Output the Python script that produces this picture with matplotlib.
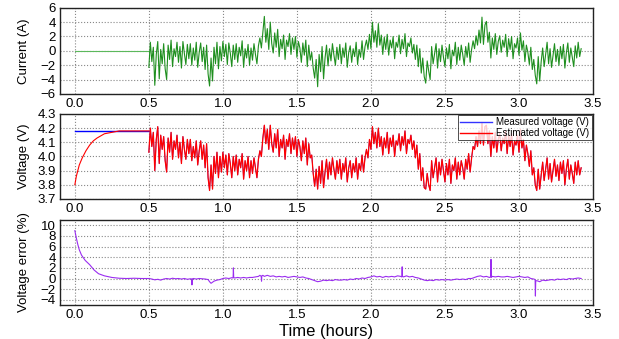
import numpy as np
import matplotlib
matplotlib.use('Agg')
import matplotlib.pyplot as plt

plt.rcParams['font.family'] = ['Liberation Sans', 'DejaVu Sans']

# Battery drive-cycle test: current, voltage (measured vs estimated) and the estimation error.
# Rest period (no load) from 0 to 0.5 h, then the dynamic profile sampled every 0.01 h.
idle_t = [0.0, 0.5]
idle_current = [0.0, 0.0]
idle_voltage = [4.18, 4.18]

# estimator start-up from a wrong initial guess
est_start_t = [0.0, 0.005, 0.01, 0.02, 0.03, 0.05, 0.075, 0.1, 0.125, 0.15, 0.2, 0.25, 0.3, 0.4, 0.5]
est_start_v = [3.80, 3.83, 3.86, 3.90, 3.94, 3.99, 4.04, 4.08, 4.11, 4.13, 4.16, 4.17, 4.18, 4.18, 4.18]

run_start = 0.5
run_end = 3.42

current = [
    -2.3, 1.2, -1.5, 0.5, -4.8, -0.5, 1.3, -3.9, 0.2, -1.8,
    1.0, -2.5, -4.0, 0.8, -1.2, 1.5, -2.2, 0.3, -0.8, 1.2,
    -1.6, 0.6, -2.4, 1.3, -0.4, -1.9, 0.9, -1.1, 1.0, -2.0,
    0.4, -1.3, 1.2, -2.3, -0.2, 1.1, -1.5, 0.5, -2.6, 0.8,
    -3.2, -4.9, -1.0, -4.2, 0.5, -1.8, 1.2, -2.5, 0.6, -1.4,
    1.3, -0.8, 0.9, -1.9, 1.1, -0.3, -2.2, 0.8, -1.2, 1.0,
    -1.6, 0.5, -0.7, 1.4, -2.3, 0.3, -1.0, 0.9, -2.0, 0.4,
    -1.3, 1.0, -0.5, -1.8, 0.7, 1.8, 0.4, 2.6, 4.8, 1.2,
    3.1, 0.2, 4.0, 1.0, -0.3, 2.5, 0.5, 3.0, -0.8, 1.6,
    0.3, 2.2, -1.2, 1.5, 0.6, 2.4, -0.5, 1.8, 0.2, 2.0,
    -0.9, 1.3, 0.4, -1.6, 1.1, -0.6, 1.5, -2.2, 0.8, -1.3,
    -0.2, -2.4, -3.8, -1.2, -5.0, -0.5, -2.9, 0.6, -3.9, -1.0,
    0.8, -2.1, 0.3, -1.4, 1.0, -0.6, -2.0, 0.5, -1.2, 0.9,
    -1.8, 0.4, -0.9, 1.1, -2.3, -0.2, 0.7, -1.6, 0.3, -0.8,
    1.2, -1.9, 0.2, -0.9, 1.4, -1.2, 0.6, 1.5, 0.2, 2.3,
    0.3, 4.0, 1.2, 2.8, 0.5, 3.8, 0.8, 2.2, -0.5, 1.9,
    0.2, 2.3, -0.6, 1.5, 0.4, 2.0, -1.1, 1.2, 0.5, 2.2,
    -0.4, 1.6, 0.3, 2.4, -0.8, 1.1, 0.6, 1.8, -0.3, 0.9,
    -1.2, 0.8, -2.2, 0.3, -3.1, -1.0, -3.6, -4.5, -1.4, -2.8,
    -4.0, 0.6, -1.8, -0.4, 1.0, -2.4, 0.3, -1.5, 0.8, -0.9,
    -2.2, 0.4, -1.1, 0.9, -2.5, 0.1, -0.7, 1.2, -1.9, 0.5,
    -1.3, 0.8, -0.5, -2.0, 0.6, -0.9, 1.1, -1.6, 0.2, 1.4,
    0.3, 2.1, 0.8, 2.9, 1.1, 4.7, 0.9, 3.6, 4.1, 1.2,
    2.6, -1.0, 1.8, 0.2, 2.4, -0.5, 1.3, 2.1, -0.2, 1.5,
    0.5, 2.3, -0.8, 1.7, 0.2, 2.0, -1.1, 1.0, 0.4, 1.8,
    -0.6, 2.5, 0.1, 1.4, -1.5, 0.8, -0.2, -1.9, 0.5, -2.6,
    -1.2, -3.4, -4.6, -0.8, -4.2, -1.5, 0.4, -2.2, -0.5, 1.2,
    -1.8, 0.3, -2.3, -0.6, 1.0, -1.5, 0.2, -2.0, 0.6, -1.1,
    0.9, -2.4, -0.3, 1.1, -1.6, 0.4, -0.9, -2.2, 0.7, -1.0,
    1.2, -0.8, 0.3,
]

measured_voltage = [
    4.03, 4.20, 4.07, 4.17, 3.90, 4.12, 4.21, 3.95, 4.15, 4.05,
    4.14, 3.97, 3.89, 4.13, 4.03, 4.17, 3.98, 4.11, 4.05, 4.15,
    3.99, 4.10, 3.95, 4.14, 4.05, 3.98, 4.12, 4.02, 4.12, 3.97,
    4.07, 3.99, 4.11, 3.94, 4.04, 4.11, 3.98, 4.08, 3.92, 4.09,
    3.85, 3.76, 3.94, 3.77, 4.00, 3.88, 4.03, 3.85, 4.00, 3.89,
    4.03, 3.92, 4.01, 3.87, 4.02, 3.95, 3.85, 4.00, 3.90, 4.01,
    3.87, 3.98, 3.92, 4.02, 3.84, 3.97, 3.90, 4.00, 3.85, 3.97,
    3.88, 3.99, 3.92, 3.85, 3.98, 4.04, 4.00, 4.13, 4.22, 4.09,
    4.19, 4.05, 4.22, 4.09, 4.03, 4.16, 4.06, 4.19, 4.00, 4.12,
    4.06, 4.15, 3.98, 4.12, 4.07, 4.16, 4.02, 4.13, 4.05, 4.14,
    4.00, 4.12, 4.07, 3.97, 4.11, 4.02, 4.13, 3.94, 4.09, 3.99,
    4.01, 3.88, 3.79, 3.91, 3.77, 3.93, 3.81, 3.97, 3.78, 3.89,
    3.98, 3.84, 3.96, 3.87, 3.99, 3.91, 3.84, 3.97, 3.88, 3.98,
    3.84, 3.95, 3.89, 3.99, 3.82, 3.92, 3.97, 3.85, 3.95, 3.89,
    3.99, 3.84, 3.95, 3.90, 4.01, 3.89, 3.99, 4.05, 3.99, 4.12,
    4.05, 4.21, 4.09, 4.17, 4.06, 4.20, 4.07, 4.14, 4.01, 4.13,
    4.06, 4.17, 4.02, 4.13, 4.07, 4.15, 4.00, 4.11, 4.08, 4.16,
    4.04, 4.14, 4.08, 4.18, 4.02, 4.12, 4.09, 4.15, 4.05, 4.11,
    3.99, 4.08, 3.91, 4.02, 3.83, 3.92, 3.78, 3.77, 3.88, 3.80,
    3.76, 3.97, 3.85, 3.92, 3.99, 3.82, 3.96, 3.87, 3.98, 3.90,
    3.82, 3.95, 3.87, 3.98, 3.81, 3.94, 3.90, 3.99, 3.84, 3.96,
    3.87, 3.97, 3.92, 3.84, 3.98, 3.91, 4.02, 3.89, 3.99, 4.07,
    4.05, 4.14, 4.07, 4.18, 4.09, 4.24, 4.08, 4.21, 4.22, 4.09,
    4.18, 4.00, 4.14, 4.06, 4.17, 4.03, 4.12, 4.16, 4.04, 4.13,
    4.09, 4.18, 4.02, 4.15, 4.07, 4.16, 4.01, 4.11, 4.08, 4.15,
    4.03, 4.19, 4.06, 4.12, 3.97, 4.08, 4.02, 3.93, 4.04, 3.87,
    3.92, 3.80, 3.76, 3.91, 3.77, 3.87, 3.96, 3.83, 3.91, 3.99,
    3.84, 3.95, 3.82, 3.90, 3.98, 3.86, 3.94, 3.83, 3.96, 3.88,
    3.97, 3.80, 3.91, 3.98, 3.84, 3.94, 3.88, 3.81, 3.96, 3.87,
    3.97, 3.87, 3.92,
]

# after convergence the estimate sits right on top of the measurement
estimated_voltage = measured_voltage

# voltage error (%), with the odd single-sample spikes kept as they appear
err_t = [
    0.0, 0.01, 0.02, 0.03, 0.045, 0.07, 0.10, 0.13, 0.16, 0.20, 0.25, 0.30, 0.35, 0.40, 0.45,
    0.50, 0.52, 0.54, 0.56, 0.58, 0.60, 0.62, 0.64, 0.66, 0.68, 0.70, 0.72, 0.74, 0.76, 0.78,
    0.789, 0.791, 0.793, 0.80, 0.82, 0.84, 0.86, 0.88, 0.90, 0.91, 0.92, 0.93, 0.94, 0.96, 0.98,
    1.00, 1.02, 1.04, 1.06, 1.069, 1.071, 1.073, 1.08, 1.10, 1.12, 1.14, 1.16, 1.18, 1.20, 1.22,
    1.24, 1.25, 1.259, 1.261, 1.263, 1.27, 1.28, 1.30, 1.32, 1.34, 1.36, 1.38, 1.40, 1.42, 1.44,
    1.46, 1.48, 1.50, 1.52, 1.54, 1.56, 1.58, 1.60, 1.62, 1.64, 1.66, 1.68, 1.70, 1.72, 1.74,
    1.76, 1.78, 1.80, 1.82, 1.84, 1.86, 1.88, 1.90, 1.92, 1.94, 1.96, 1.98, 2.00, 2.02, 2.04,
    2.06, 2.08, 2.10, 2.12, 2.14, 2.16, 2.18, 2.20, 2.209, 2.211, 2.213, 2.22, 2.24, 2.26, 2.28,
    2.30, 2.32, 2.34, 2.36, 2.38, 2.40, 2.42, 2.44, 2.46, 2.48, 2.50, 2.52, 2.54, 2.56, 2.58,
    2.60, 2.62, 2.64, 2.66, 2.68, 2.70, 2.72, 2.74, 2.76, 2.78, 2.80, 2.809, 2.811, 2.813, 2.82,
    2.84, 2.86, 2.88, 2.90, 2.92, 2.94, 2.96, 2.98, 3.00, 3.02, 3.04, 3.06, 3.08, 3.10, 3.109,
    3.111, 3.113, 3.12, 3.14, 3.16, 3.18, 3.20, 3.22, 3.24, 3.26, 3.28, 3.30, 3.32, 3.34, 3.36,
    3.38, 3.40, 3.42,
]
err_v = [
    9.0, 7.6, 6.4, 5.4, 4.4, 3.4, 2.6, 1.6, 0.9, 0.5, 0.2, 0.05, 0.0, 0.05, 0.0,
    0.0, -0.1, -0.25, -0.15, -0.3, -0.1, 0.0, -0.1, 0.05, -0.05, 0.0, -0.1, 0.0, -0.15, -0.05,
    -0.1, -1.2, -0.1, 0.0, -0.1, 0.0, -0.05, -0.1, -0.2, -0.6, -0.9, -0.7, -0.5, -0.3, -0.2,
    0.0, 0.1, 0.0, 0.15, 0.1, 2.0, 0.2, 0.1, 0.2, 0.1, 0.2, 0.1, 0.2, 0.2, 0.3,
    0.4, 0.6, 0.4, -0.5, 0.5, 0.6, 0.4, 0.6, 0.4, 0.5, 0.3, 0.4, 0.3, 0.4, 0.2,
    0.3, 0.4, 0.3, 0.2, 0.3, 0.1, 0.0, -0.2, -0.4, -0.6, -0.5, -0.3, -0.4, -0.3, -0.4,
    -0.2, -0.3, -0.3, -0.2, -0.3, -0.1, -0.2, 0.0, -0.1, 0.1, 0.0, 0.2, 0.3, 0.5, 0.3,
    0.4, 0.2, 0.4, 0.3, 0.4, 0.3, 0.5, 0.4, 0.3, 2.2, 0.4, 0.3, 0.5, 0.3, 0.4,
    0.2, 0.1, -0.1, -0.3, -0.4, -0.3, -0.4, -0.2, -0.3, -0.2, -0.3, -0.2, -0.3, -0.2, -0.1,
    -0.2, -0.1, -0.2, 0.0, 0.0, 0.2, 0.4, 0.5, 0.3, 0.4, 0.2, 0.3, 3.6, 0.2, 0.4,
    0.3, 0.4, 0.3, 0.3, 0.4, 0.3, 0.2, 0.3, 0.4, 0.3, 0.2, 0.3, 0.0, -0.1, -0.2,
    -3.3, -0.5, -0.4, -0.6, -0.3, -0.4, -0.3, -0.2, -0.3, -0.1, -0.2, -0.1, -0.2, 0.0, -0.1,
    0.0, 0.1, 0.0,
]

run_t = np.linspace(run_start, run_end, len(current))

fig = plt.figure(figsize=(6.19, 3.39), dpi=100)
ax_i = fig.add_axes([0.097, 0.723, 0.861, 0.254])
ax_v = fig.add_axes([0.097, 0.413, 0.861, 0.251])
ax_e = fig.add_axes([0.097, 0.100, 0.861, 0.251])

green = '#1f8f1f'
ax_i.plot(idle_t, idle_current, color='#5cb85c', linewidth=0.8)
ax_i.plot(run_t, current, color=green, linewidth=0.8)
ax_i.set_ylim(-6, 6)
ax_i.set_yticks([-6, -4, -2, 0, 2, 4, 6])
ax_i.set_ylabel('Current (A)', fontsize=9.5)

# blue drawn thin underneath so only its edges peek out from the red estimate
ax_v.plot(idle_t, idle_voltage, color='#0000ff', linewidth=1.0)
ax_v.plot(run_t, measured_voltage, color='#3333ff', linewidth=0.6, label='Measured voltage (V)')
ax_v.plot(est_start_t, est_start_v, color='#ff0000', linewidth=0.8)
ax_v.plot(run_t, estimated_voltage, color='#ff0000', linewidth=0.9, label='Estimated voltage (V)')
ax_v.set_ylim(3.7, 4.3)
ax_v.set_yticks([3.7, 3.8, 3.9, 4.0, 4.1, 4.2, 4.3])
ax_v.set_ylabel('Voltage (V)', fontsize=9.5)
leg = ax_v.legend(loc='upper right', fontsize=7, frameon=True, fancybox=False,
                  borderpad=0.2, handlelength=3.3, labelspacing=0.1,
                  borderaxespad=0.15, handletextpad=0.5)
leg.get_frame().set_edgecolor('black')
leg.get_frame().set_linewidth(0.6)
for h in leg.get_lines():
    h.set_linewidth(1.0)

ax_e.plot(err_t, err_v, color='#9a2cf0', linewidth=0.8)
ax_e.set_ylim(-5, 11)
ax_e.set_yticks([-4, -2, 0, 2, 4, 6, 8, 10])
ax_e.set_ylabel('Voltage error (%)', fontsize=9.5)
ax_e.set_xlabel('Time (hours)', fontsize=12, labelpad=2)

for ax in (ax_i, ax_v, ax_e):
    ax.set_xlim(-0.1, 3.5)
    ax.set_xticks([0.0, 0.5, 1.0, 1.5, 2.0, 2.5, 3.0, 3.5])
    ax.set_xticklabels(['0.0', '0.5', '1.0', '1.5', '2.0', '2.5', '3.0', '3.5'])
    ax.grid(True, linestyle=':', color='#888888', linewidth=0.8)
    ax.tick_params(length=0, labelsize=9.5, pad=3)
    for s in ax.spines.values():
        s.set_color('#222222')
        s.set_linewidth(1.0)
    ax.yaxis.set_label_coords(-0.056, 0.5)

ax_v.set_yticklabels(['3.7', '3.8', '3.9', '4.0', '4.1', '4.2', '4.3'])

fig.savefig('out.png', dpi=100)
